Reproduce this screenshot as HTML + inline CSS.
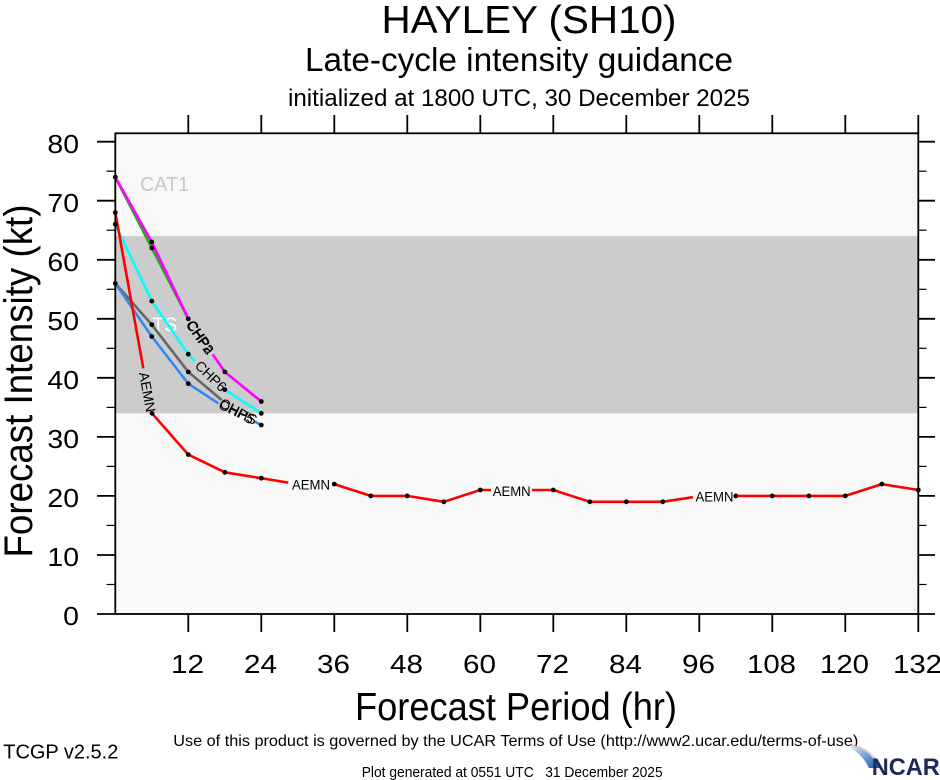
<!DOCTYPE html>
<html><head><meta charset="utf-8"><style>
html,body{margin:0;padding:0;background:#fff;}
svg{display:block;}
text{font-family:"Liberation Sans",Arial,sans-serif;}
</style></head><body>
<svg width="940" height="780" viewBox="0 0 940 780" xmlns="http://www.w3.org/2000/svg">
<defs>
<linearGradient id="sw" x1="0" y1="0" x2="1" y2="1">
<stop offset="0" stop-color="#e8f0fa"/><stop offset="0.5" stop-color="#6fa0d8"/><stop offset="1" stop-color="#1f4fa0"/>
</linearGradient>
</defs>
<!-- titles -->
<text x="529" y="33" font-size="39" text-anchor="middle" textLength="295" lengthAdjust="spacingAndGlyphs">HAYLEY (SH10)</text>
<text x="519" y="71" font-size="33" text-anchor="middle" textLength="428" lengthAdjust="spacingAndGlyphs">Late-cycle intensity guidance</text>
<text x="519" y="106" font-size="24" text-anchor="middle" textLength="462" lengthAdjust="spacingAndGlyphs">initialized at 1800 UTC, 30 December 2025</text>

<!-- plot background -->
<rect x="115.3" y="133.3" width="803" height="480.7" fill="#f8f8f8"/>
<rect x="115.3" y="236.1" width="803" height="177.2" fill="#cccccc"/>
<text x="140" y="191" font-size="20" fill="#c8c8c8" textLength="49" lengthAdjust="spacingAndGlyphs">CAT1</text>
<text x="152.3" y="331.7" font-size="20" fill="#ffffff" textLength="25" lengthAdjust="spacingAndGlyphs">TS</text>

<!-- series -->
<g fill="none" stroke-width="2.6" stroke-linejoin="round" stroke-linecap="butt">
<polyline stroke="#22aa22" points="115.3,177.1 151.8,248.0 188.3,318.8"/>
<polyline stroke="#ff00ff" points="115.3,177.1 151.8,242.0 188.3,318.8"/>
<polyline stroke="#ff00ff" points="212.7,354.3 224.8,371.9 261.3,401.5"/>
<polyline stroke="#00ffff" points="115.3,224.3 151.8,301.1 188.3,354.2 195,361"/>
<polyline stroke="#00ffff" points="224.8,389.6 261.3,413.3"/>
<polyline stroke="#666666" points="115.3,283.4 151.8,324.7 188.3,371.9 221.7,400"/>
<polyline stroke="#3388ee" points="115.3,283.4 151.8,336.5 188.3,383.7 218.3,403.3"/>
<polyline stroke="#3388ee" points="255,421.7 261.3,425.1"/>
<polyline stroke="#ff0000" points="115.3,212.5 143.3,368.3"/>
<polyline stroke="#ff0000" points="152,413.3 188.3,454.6 224.8,472.3 261.3,478.2 288.3,482.6"/>
<polyline stroke="#ff0000" points="334.3,484.1 370.8,495.9 407.3,495.9 443.8,501.8 480.3,490.0 491,490"/>
<polyline stroke="#ff0000" points="532,490 553.3,490 589.8,501.8 626.3,501.8 662.8,501.8 693,497.2"/>
<polyline stroke="#ff0000" points="735.8,495.9 772.3,495.9 808.8,495.9 845.3,495.9 881.8,484.1 918.3,490"/>
</g>
<g fill="#000">
<circle cx="115.3" cy="177.1" r="2.4"/><circle cx="151.8" cy="242.0" r="2.4"/><circle cx="151.8" cy="248.0" r="2.4"/>
<circle cx="188.3" cy="318.8" r="2.4"/><circle cx="224.8" cy="371.9" r="2.4"/><circle cx="261.3" cy="401.5" r="2.4"/>
<circle cx="115.3" cy="224.3" r="2.4"/><circle cx="151.8" cy="301.1" r="2.4"/><circle cx="188.3" cy="354.2" r="2.4"/>
<circle cx="224.8" cy="389.6" r="2.4"/><circle cx="261.3" cy="413.3" r="2.4"/>
<circle cx="115.3" cy="283.4" r="2.4"/><circle cx="151.8" cy="324.7" r="2.4"/><circle cx="188.3" cy="371.9" r="2.4"/>
<circle cx="151.8" cy="336.5" r="2.4"/><circle cx="188.3" cy="383.7" r="2.4"/><circle cx="261.3" cy="425.1" r="2.4"/>
<circle cx="115.3" cy="212.5" r="2.4"/><circle cx="152" cy="413.3" r="2.4"/><circle cx="188.3" cy="454.6" r="2.4"/>
<circle cx="224.8" cy="472.3" r="2.4"/><circle cx="261.3" cy="478.2" r="2.4"/><circle cx="334.3" cy="484.1" r="2.4"/>
<circle cx="370.8" cy="495.9" r="2.4"/><circle cx="407.3" cy="495.9" r="2.4"/><circle cx="443.8" cy="501.8" r="2.4"/>
<circle cx="480.3" cy="490.0" r="2.4"/><circle cx="553.3" cy="490.0" r="2.4"/><circle cx="589.8" cy="501.8" r="2.4"/>
<circle cx="626.3" cy="501.8" r="2.4"/><circle cx="662.8" cy="501.8" r="2.4"/><circle cx="735.8" cy="495.9" r="2.4"/>
<circle cx="772.3" cy="495.9" r="2.4"/><circle cx="808.8" cy="495.9" r="2.4"/><circle cx="845.3" cy="495.9" r="2.4"/>
<circle cx="881.8" cy="484.1" r="2.4"/><circle cx="918.3" cy="490.0" r="2.4"/>
</g>
<!-- line labels -->
<g font-size="14" fill="#000">
<text x="311" y="489.5" text-anchor="middle" textLength="38" lengthAdjust="spacingAndGlyphs">AEMN</text>
<text x="511.7" y="496" text-anchor="middle" textLength="38" lengthAdjust="spacingAndGlyphs">AEMN</text>
<text x="714.5" y="501.5" text-anchor="middle" textLength="38" lengthAdjust="spacingAndGlyphs">AEMN</text>
<text transform="translate(147.5,392) rotate(79.5)" text-anchor="middle" y="5">AEMN</text>
<text transform="translate(200,337) rotate(55)" text-anchor="middle" y="5">CHP2</text>
<text transform="translate(201,337) rotate(55)" text-anchor="middle" y="5">CHPa</text>
<text transform="translate(211,376) rotate(44)" text-anchor="middle" y="5">CHP6</text>
<text transform="translate(237,411) rotate(30)" text-anchor="middle" y="5">CHP5</text>
<text transform="translate(238,412) rotate(25)" text-anchor="middle" y="5">OHHS</text>
</g>

<!-- axes -->
<rect x="115.3" y="133.3" width="803" height="480.7" fill="none" stroke="#000" stroke-width="1.8"/>
<g stroke="#000" stroke-width="1.8">
<line x1="97" y1="614" x2="115.3" y2="614"/><line x1="97" y1="555" x2="115.3" y2="555"/>
<line x1="97" y1="495.9" x2="115.3" y2="495.9"/><line x1="97" y1="436.9" x2="115.3" y2="436.9"/>
<line x1="97" y1="377.8" x2="115.3" y2="377.8"/><line x1="97" y1="318.8" x2="115.3" y2="318.8"/>
<line x1="97" y1="259.8" x2="115.3" y2="259.8"/><line x1="97" y1="200.7" x2="115.3" y2="200.7"/>
<line x1="97" y1="141.7" x2="115.3" y2="141.7"/>
<line x1="918.3" y1="614" x2="935" y2="614"/><line x1="918.3" y1="555" x2="935" y2="555"/>
<line x1="918.3" y1="495.9" x2="935" y2="495.9"/><line x1="918.3" y1="436.9" x2="935" y2="436.9"/>
<line x1="918.3" y1="377.8" x2="935" y2="377.8"/><line x1="918.3" y1="318.8" x2="935" y2="318.8"/>
<line x1="918.3" y1="259.8" x2="935" y2="259.8"/><line x1="918.3" y1="200.7" x2="935" y2="200.7"/>
<line x1="918.3" y1="141.7" x2="935" y2="141.7"/>
</g>
<g stroke="#000" stroke-width="1.2">
<line x1="106.5" y1="584.5" x2="115.3" y2="584.5"/><line x1="106.5" y1="525.4" x2="115.3" y2="525.4"/>
<line x1="106.5" y1="466.4" x2="115.3" y2="466.4"/><line x1="106.5" y1="407.4" x2="115.3" y2="407.4"/>
<line x1="106.5" y1="348.3" x2="115.3" y2="348.3"/><line x1="106.5" y1="289.3" x2="115.3" y2="289.3"/>
<line x1="106.5" y1="230.2" x2="115.3" y2="230.2"/><line x1="106.5" y1="171.2" x2="115.3" y2="171.2"/>
<line x1="918.3" y1="584.5" x2="926.5" y2="584.5"/><line x1="918.3" y1="525.4" x2="926.5" y2="525.4"/>
<line x1="918.3" y1="466.4" x2="926.5" y2="466.4"/><line x1="918.3" y1="407.4" x2="926.5" y2="407.4"/>
<line x1="918.3" y1="348.3" x2="926.5" y2="348.3"/><line x1="918.3" y1="289.3" x2="926.5" y2="289.3"/>
<line x1="918.3" y1="230.2" x2="926.5" y2="230.2"/><line x1="918.3" y1="171.2" x2="926.5" y2="171.2"/>
</g>
<g stroke="#000" stroke-width="1.8">
<line x1="188.3" y1="614" x2="188.3" y2="632"/><line x1="261.3" y1="614" x2="261.3" y2="632"/>
<line x1="334.3" y1="614" x2="334.3" y2="632"/><line x1="407.3" y1="614" x2="407.3" y2="632"/>
<line x1="480.3" y1="614" x2="480.3" y2="632"/><line x1="553.3" y1="614" x2="553.3" y2="632"/>
<line x1="626.3" y1="614" x2="626.3" y2="632"/><line x1="699.3" y1="614" x2="699.3" y2="632"/>
<line x1="772.3" y1="614" x2="772.3" y2="632"/><line x1="845.3" y1="614" x2="845.3" y2="632"/>
<line x1="918.3" y1="614" x2="918.3" y2="632"/>
<line x1="188.3" y1="115" x2="188.3" y2="133.3"/><line x1="261.3" y1="115" x2="261.3" y2="133.3"/>
<line x1="334.3" y1="115" x2="334.3" y2="133.3"/><line x1="407.3" y1="115" x2="407.3" y2="133.3"/>
<line x1="480.3" y1="115" x2="480.3" y2="133.3"/><line x1="553.3" y1="115" x2="553.3" y2="133.3"/>
<line x1="626.3" y1="115" x2="626.3" y2="133.3"/><line x1="699.3" y1="115" x2="699.3" y2="133.3"/>
<line x1="772.3" y1="115" x2="772.3" y2="133.3"/><line x1="845.3" y1="115" x2="845.3" y2="133.3"/>
<line x1="918.3" y1="115" x2="918.3" y2="133.3"/>
</g>

<!-- tick labels -->
<g font-size="26" text-anchor="end">
<text x="79" y="625" textLength="15.8" lengthAdjust="spacingAndGlyphs">0</text>
<text x="79" y="566" textLength="31.6" lengthAdjust="spacingAndGlyphs">10</text>
<text x="79" y="507" textLength="31.6" lengthAdjust="spacingAndGlyphs">20</text>
<text x="79" y="448" textLength="31.6" lengthAdjust="spacingAndGlyphs">30</text>
<text x="79" y="389" textLength="31.6" lengthAdjust="spacingAndGlyphs">40</text>
<text x="79" y="330" textLength="31.6" lengthAdjust="spacingAndGlyphs">50</text>
<text x="79" y="271" textLength="31.6" lengthAdjust="spacingAndGlyphs">60</text>
<text x="79" y="212" textLength="31.6" lengthAdjust="spacingAndGlyphs">70</text>
<text x="79" y="153" textLength="31.6" lengthAdjust="spacingAndGlyphs">80</text>
</g>
<g font-size="26" text-anchor="middle">
<text x="187.5" y="673" textLength="33" lengthAdjust="spacingAndGlyphs">12</text>
<text x="260.5" y="673" textLength="33" lengthAdjust="spacingAndGlyphs">24</text>
<text x="333.5" y="673" textLength="33" lengthAdjust="spacingAndGlyphs">36</text>
<text x="406.5" y="673" textLength="33" lengthAdjust="spacingAndGlyphs">48</text>
<text x="479.5" y="673" textLength="33" lengthAdjust="spacingAndGlyphs">60</text>
<text x="552.5" y="673" textLength="33" lengthAdjust="spacingAndGlyphs">72</text>
<text x="625.5" y="673" textLength="33" lengthAdjust="spacingAndGlyphs">84</text>
<text x="698.5" y="673" textLength="33" lengthAdjust="spacingAndGlyphs">96</text>
<text x="771.5" y="673" textLength="49" lengthAdjust="spacingAndGlyphs">108</text>
<text x="844.5" y="673" textLength="49" lengthAdjust="spacingAndGlyphs">120</text>
<text x="917.5" y="673" textLength="49" lengthAdjust="spacingAndGlyphs">132</text>
</g>

<!-- axis titles -->
<text x="516" y="720" font-size="39" text-anchor="middle" textLength="322" lengthAdjust="spacingAndGlyphs">Forecast Period (hr)</text>
<text transform="translate(32,381) rotate(-90)" font-size="40" text-anchor="middle" textLength="353" lengthAdjust="spacingAndGlyphs">Forecast Intensity (kt)</text>

<!-- footer -->
<text x="173.3" y="746" font-size="16" textLength="685" lengthAdjust="spacingAndGlyphs">Use of this product is governed by the UCAR Terms of Use (http://www2.ucar.edu/terms-of-use)</text>
<text x="3.3" y="758.3" font-size="20" textLength="115" lengthAdjust="spacingAndGlyphs">TCGP v2.5.2</text>
<text x="361.7" y="777" font-size="14.5" textLength="301" lengthAdjust="spacingAndGlyphs" xml:space="preserve">Plot generated at 0551 UTC   31 December 2025</text>
<path d="M850,745 Q868,747 880,768 L869,768 Q862,754 850,748 Z" fill="url(#sw)"/>
<path d="M850,745 Q868,746 881,766" fill="none" stroke="#f0a040" stroke-width="0.8"/>
<text x="871.7" y="775" font-size="24" font-weight="bold" fill="#1c2a59" textLength="68" lengthAdjust="spacingAndGlyphs">NCAR</text>
</svg>
</body></html>
